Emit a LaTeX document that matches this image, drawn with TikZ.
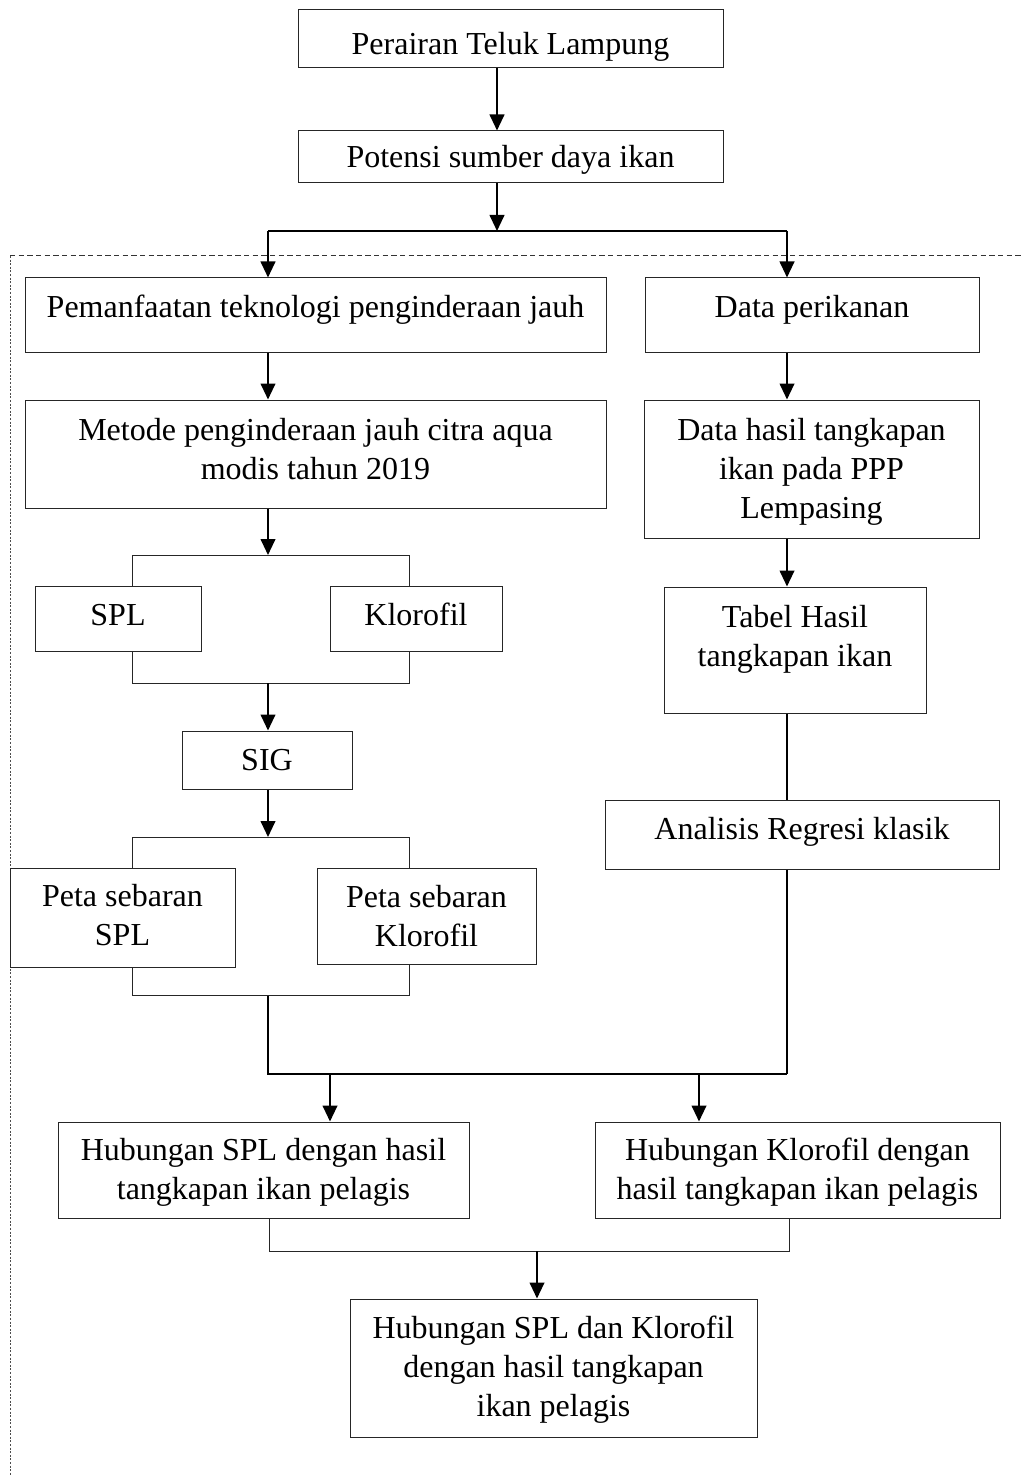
\documentclass[tikz,border=0pt]{standalone}
\usepackage{fontspec}
\setmainfont{Liberation Serif}
\usetikzlibrary{arrows.meta}
\newcommand{\boxtxt}[2]{\raisebox{#1}[0pt][0pt]{\begin{tabular}[t]{@{}c@{}}#2\end{tabular}}}
\begin{document}
\begin{tikzpicture}[x=0.75pt,y=-0.75pt,
  box/.style={draw=black!85, line width=0.75pt, inner sep=0pt, font=\fontsize{24pt}{29.25pt}\selectfont},
  arr/.style={line width=1.5pt, -{Triangle[length=12pt,width=11pt]}},
  ln/.style={line width=1.5pt},
  mid/.style={line width=1.1pt},
  brk/.style={line width=0.75pt, draw=black!85}]
\useasboundingbox (0,0) rectangle (1021,1476);
% frame
\draw[black!80, line width=0.75pt, dash pattern=on 4pt off 2.5pt] (10,256) -- (1021,256);
\draw[black!70, line width=0.75pt, dash pattern=on 1.5pt off 1.2pt] (10,256) -- (10,1476);
% boxes
\node[box, minimum width=318.75pt, minimum height=43.5pt] (n1) at (510.5,39) {\boxtxt{-12pt}{Perairan Teluk Lampung}};
\node[box, minimum width=318.75pt, minimum height=39pt] (n2) at (510.5,157) {\boxtxt{-8.25pt}{Potensi sumber daya ikan}};
\node[box, minimum width=435.75pt, minimum height=55.5pt] (n3) at (315.5,315) {\boxtxt{-2.25pt}{Pemanfaatan teknologi penginderaan jauh}};
\node[box, minimum width=250.5pt, minimum height=55.5pt] (n4) at (812,315) {\boxtxt{-2.25pt}{Data perikanan}};
\node[box, minimum width=435.75pt, minimum height=81pt] (n5) at (315.5,454) {\boxtxt{10.5pt}{Metode penginderaan jauh citra aqua\\modis tahun 2019}};
\node[box, minimum width=251.25pt, minimum height=103.5pt] (n6) at (811.5,469) {\boxtxt{21.75pt}{Data hasil tangkapan\\ikan pada PPP\\Lempasing}};
\node[box, minimum width=196.5pt, minimum height=94.5pt] (n7) at (795,650) {\boxtxt{17.25pt}{Tabel Hasil\\tangkapan ikan}};
\node[box, minimum width=295.5pt, minimum height=51.75pt] (n8) at (802,834.5) {\boxtxt{-3.4pt}{Analisis Regresi klasik}};
\node[box, minimum width=124.5pt, minimum height=48.75pt] (n9) at (118,618.5) {\boxtxt{-5.6pt}{SPL}};
\node[box, minimum width=129pt, minimum height=48.75pt] (n10) at (416,618.5) {\boxtxt{-5.6pt}{Klorofil}};
\node[box, minimum width=127.5pt, minimum height=43.5pt] (n11) at (267,760) {\boxtxt{-7.5pt}{SIG}};
\node[box, minimum width=168.75pt, minimum height=74.25pt] (n12) at (122.5,917.5) {\boxtxt{7.9pt}{Peta sebaran\\SPL}};
\node[box, minimum width=164.25pt, minimum height=72pt] (n13) at (426.5,916) {\boxtxt{6.75pt}{Peta sebaran\\Klorofil}};
\node[box, minimum width=308.25pt, minimum height=72pt] (n14) at (263.5,1170) {\boxtxt{7.5pt}{Hubungan SPL dengan hasil\\tangkapan ikan pelagis}};
\node[box, minimum width=303.75pt, minimum height=72pt] (n15) at (797.5,1170) {\boxtxt{7.5pt}{Hubungan Klorofil dengan\\hasil tangkapan ikan pelagis}};
\node[box, minimum width=305.25pt, minimum height=103.5pt] (n16) at (553.5,1368) {\boxtxt{22.5pt}{Hubungan SPL dan Klorofil\\dengan hasil tangkapan\\ikan pelagis}};
% helper coordinates
\coordinate (xA) at (497,0);
\coordinate (xL) at (268,0);
\coordinate (xR) at (787,0);
\coordinate (split) at (497,231);
\coordinate (bl) at (132,0);
\coordinate (br) at (409,0);
\coordinate (j1) at (268,555);
\coordinate (j2) at (268,683);
\coordinate (j3) at (268,837);
\coordinate (j4) at (268,995);
\coordinate (m) at (0,1074);
\coordinate (xH1) at (330,0);
\coordinate (xH2) at (699,0);
\coordinate (b5) at (0,1251);
\coordinate (xF) at (537,0);
\coordinate (bl2) at (269,0);
\coordinate (br2) at (789,0);
% connectors
\draw[arr] (n1.south -| xA) -- (n2.north -| xA);
\draw[arr] (n2.south -| xA) -- (split);
\draw[ln] (split -| xL) -- (split -| xR);
\draw[arr] (split -| xL) -- (n3.north -| xL);
\draw[arr] (split -| xR) -- (n4.north -| xR);
\draw[arr] (n3.south -| xL) -- (n5.north -| xL);
\draw[arr] (n4.south -| xR) -- (n6.north -| xR);
\draw[arr] (n6.south -| xR) -- (n7.north -| xR);
\draw[ln] (n7.south -| xR) -- (n8.north -| xR);
\draw[ln] (n8.south -| xR) -- (m -| xR);
\draw[mid] (j4) -- (m -| xL) -- (m -| xR);
\draw[arr] (n5.south -| xL) -- (j1);
\draw[brk] (n9.north -| bl) -- (j1 -| bl) -- (j1 -| br) -- (n10.north -| br);
\draw[brk] (n9.south -| bl) -- (j2 -| bl) -- (j2 -| br) -- (n10.south -| br);
\draw[arr] (j2) -- (n11.north -| xL);
\draw[arr] (n11.south -| xL) -- (j3);
\draw[brk] (n12.north -| bl) -- (j3 -| bl) -- (j3 -| br) -- (n13.north -| br);
\draw[brk] (n12.south -| bl) -- (j4 -| bl) -- (j4 -| br) -- (n13.south -| br);
\draw[arr] (m -| xH1) -- (n14.north -| xH1);
\draw[arr] (m -| xH2) -- (n15.north -| xH2);
\draw[brk] (n14.south -| bl2) -- (b5 -| bl2) -- (b5 -| br2) -- (n15.south -| br2);
\draw[arr] (b5 -| xF) -- (n16.north -| xF);
\end{tikzpicture}
\end{document}
